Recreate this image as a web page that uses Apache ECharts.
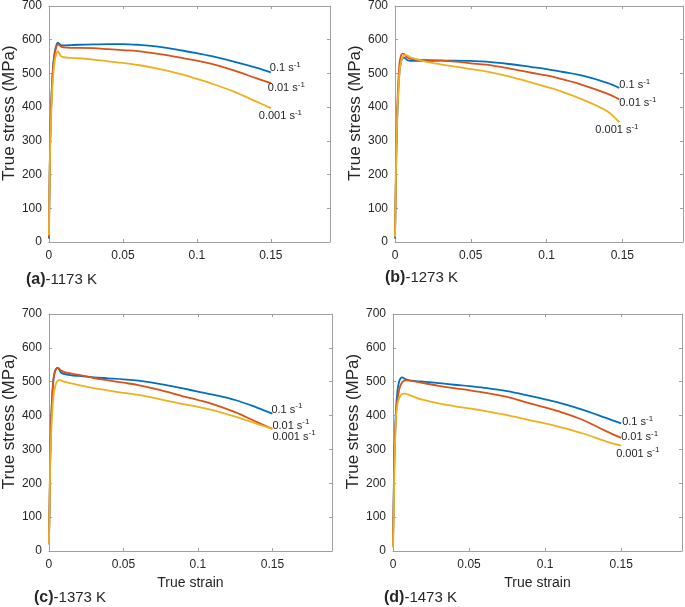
<!DOCTYPE html>
<html><head><meta charset="utf-8">
<script src="https://cdn.jsdelivr.net/npm/echarts@6/dist/echarts.min.js"></script>
<style>html,body{margin:0;padding:0;background:#fff}#c{width:685px;height:607px}</style>
</head><body><div id="c"></div>
<script>
// ---- data ----
const strainGrid = [0, 0.0005, 0.001, 0.002, 0.003, 0.004, 0.005, 0.006, 0.007, 0.008, 0.01, 0.015, 0.02, 0.03, 0.04, 0.05, 0.06, 0.075, 0.09, 0.1, 0.11, 0.125, 0.14, 0.15];
const strainGridB = [0, 0.0005, 0.001, 0.002, 0.003, 0.004, 0.005, 0.006, 0.007, 0.008, 0.01, 0.015, 0.02, 0.03, 0.04, 0.05, 0.06, 0.075, 0.09, 0.1, 0.11, 0.125, 0.14, 0.148];

const stressA_01   = [10, 200, 330, 460, 530, 565, 583, 591, 588, 584, 583, 584, 585, 586, 587, 587, 585, 579, 568, 560, 551, 535, 517, 503];
const stressA_001  = [15, 200, 330, 455, 525, 560, 578, 586, 584, 580, 577, 576, 576, 575, 572, 569, 566, 557, 546, 538, 528, 509, 486, 471];
const stressA_0001 = [20, 190, 310, 430, 500, 540, 558, 566, 560, 552, 548, 546, 545, 541, 536, 531, 525, 513, 497, 484, 470, 446, 417, 397];

const stressB_01   = [10, 150, 290, 430, 505, 535, 545, 547, 544, 540, 537, 537, 537, 538, 538, 537, 535, 528, 519, 513, 505, 492, 472, 457];
const stressB_001  = [20, 180, 320, 460, 530, 553, 559, 558, 553, 548, 543, 541, 540, 539, 535, 530, 526, 515, 502, 494, 483, 464, 440, 423];
const stressB_0001 = [15, 160, 300, 430, 505, 535, 548, 553, 555, 554, 548, 541, 535, 527, 520, 513, 506, 491, 473, 460, 446, 420, 388, 355];

const stressC_01   = [20, 150, 300, 440, 505, 530, 539, 541, 535, 528, 523, 519, 517, 513, 510, 507, 503, 493, 480, 471, 462, 446, 423, 406];
const stressC_001  = [25, 160, 310, 440, 505, 530, 538, 541, 538, 534, 529, 524, 520, 511, 504, 497, 490, 475, 457, 446, 434, 410, 380, 361];
const stressC_0001 = [20, 140, 290, 390, 455, 482, 497, 503, 505, 504, 500, 495, 490, 481, 474, 467, 461, 448, 434, 426, 416, 397, 375, 361];

const stressD_01   = [15, 180, 300, 420, 475, 500, 510, 513, 511, 508, 505, 502, 500, 496, 491, 487, 482, 472, 458, 448, 437, 417, 393, 377];
const stressD_001  = [20, 160, 280, 400, 450, 475, 490, 498, 502, 504, 504, 500, 496, 488, 481, 475, 468, 455, 436, 424, 411, 387, 354, 334];
const stressD_0001 = [10, 120, 258, 400, 436, 450, 460, 463, 465, 465, 462, 453, 446, 436, 428, 421, 414, 401, 386, 377, 366, 347, 324, 311];

const rateLabels = ['0.1', '0.01', '0.001'];
const panelTags = ['(a)', '(b)', '(c)', '(d)'];
const panelTemps = ['-1173 K', '-1273 K', '-1373 K', '-1473 K'];
const yTicks = [0, 100, 200, 300, 400, 500, 600, 700];
const xTicks = [0, 0.05, 0.1, 0.15];

// ---- layout / style ----
const colors = ['#0072BD', '#D95319', '#EDB120'];
const FONT = 'Liberation Sans, Arial, Helvetica, sans-serif';
const AXC = '#a0a0a0';
const TXT = '#262626';

const panels = [
  { strain: strainGrid,  ys: [stressA_01, stressA_001, stressA_0001], grid: {left: 41, top: 5, width: 289, height: 237},
    offs: [[-1, -5], [-3, 4], [-12, 7]], xName: '', yGap: 26, tag: {left: 26, top: 272} },
  { strain: strainGridB, ys: [stressB_01, stressB_001, stressB_0001], grid: {left: 395, top: 5, width: 288, height: 237},
    offs: [[0, -4], [0, 3], [-24, 7]], xName: '', yGap: 28, tag: {left: 385, top: 270} },
  { strain: strainGrid,  ys: [stressC_01, stressC_001, stressC_0001], grid: {left: 42, top: 314, width: 290, height: 237},
    offs: [[-1, -5], [0, -4], [0, 7]], xName: 'True strain', yGap: 27, tag: {left: 34, top: 590} },
  { strain: strainGrid,  ys: [stressD_01, stressD_001, stressD_0001], grid: {left: 393, top: 314, width: 289, height: 237},
    offs: [[1, -2], [0, -2], [-5, 7]], xName: 'True strain', yGap: 29, tag: {left: 384, top: 590} }
];

const grids = [], xAxes = [], yAxes = [], series = [], titles = [];
panels.forEach((p, g) => {
  grids.push(Object.assign({containLabel: false}, p.grid));
  const xBase = {
    type: 'value', gridIndex: g, min: xTicks[0], max: 0.19, interval: xTicks[1] - xTicks[0],
    axisLine: {show: true, onZero: false, lineStyle: {color: AXC, width: 1}},
    axisTick: {show: true, inside: true, length: 3, lineStyle: {color: AXC}},
    splitLine: {show: false}
  };
  xAxes.push(Object.assign({}, xBase, {
    position: 'bottom',
    axisLabel: {show: true, showMaxLabel: false, margin: 8, color: TXT, fontSize: 12, fontFamily: FONT,
      formatter: v => (xTicks.some(t => Math.abs(t - v) < 1e-9) ? String(+v.toFixed(2)) : '')},
    name: p.xName, nameLocation: 'middle', nameGap: 25,
    nameTextStyle: {color: TXT, fontSize: 14, fontFamily: FONT}
  }));
  xAxes.push(Object.assign({}, xBase, {position: 'top', axisLabel: {show: false}}));
  const yBase = {
    type: 'value', gridIndex: g, min: yTicks[0], max: yTicks[yTicks.length - 1], interval: yTicks[1] - yTicks[0],
    axisLine: {show: true, onZero: false, lineStyle: {color: AXC, width: 1}},
    axisTick: {show: true, inside: true, length: 3, lineStyle: {color: AXC}},
    splitLine: {show: false}
  };
  yAxes.push(Object.assign({}, yBase, {
    position: 'left',
    axisLabel: {show: true, margin: 7, color: TXT, fontSize: 12, fontFamily: FONT},
    name: 'True stress (MPa)', nameLocation: 'middle', nameGap: p.yGap,
    nameTextStyle: {color: TXT, fontSize: 17, fontFamily: FONT, padding: [0, 0, 0, 22]}
  }));
  yAxes.push(Object.assign({}, yBase, {position: 'right', axisLabel: {show: false}}));

  p.ys.forEach((vals, k) => {
    series.push({
      type: 'line', xAxisIndex: 2 * g, yAxisIndex: 2 * g,
      data: p.strain.map((s, i) => [s, vals[i]]),
      symbol: 'none', smooth: 0.35,
      lineStyle: {color: colors[k], width: 1.8}, itemStyle: {color: colors[k]},
      z: 2 + k, silent: true,
      endLabel: {
        show: true, distance: 0, offset: p.offs[k], align: 'left', verticalAlign: 'middle',
        formatter: '{v|' + rateLabels[k] + ' s}{s|-1}',
        rich: {
          v: {fontSize: 11, color: TXT, fontFamily: FONT, lineHeight: 13, verticalAlign: 'bottom'},
          s: {fontSize: 8, color: TXT, fontFamily: FONT, lineHeight: 13, verticalAlign: 'top'}
        }
      }
    });
  });

  titles.push({
    text: '{b|' + panelTags[g] + '}{n|' + panelTemps[g] + '}',
    left: p.tag.left, top: p.tag.top, padding: 0,
    textStyle: {
      fontWeight: 'normal',
      rich: {
        b: {fontSize: 16, fontWeight: 'bold', color: TXT, fontFamily: FONT},
        n: {fontSize: 15, fontWeight: 'normal', color: TXT, fontFamily: FONT}
      }
    }
  });
});

const chart = echarts.init(document.getElementById('c'), null, {renderer: 'canvas'});
chart.setOption({
  animation: false,
  backgroundColor: '#ffffff',
  title: titles,
  grid: grids,
  xAxis: xAxes,
  yAxis: yAxes,
  series: series
});
</script>
</body></html>
